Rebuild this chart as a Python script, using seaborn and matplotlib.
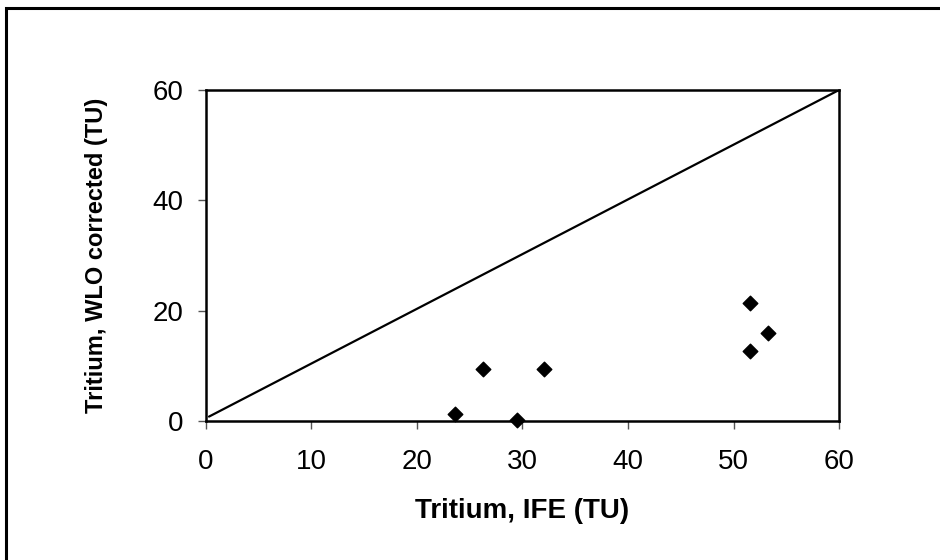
import matplotlib
matplotlib.use("Agg")
import matplotlib.pyplot as plt
import seaborn as sns
import pandas as pd
from matplotlib.patches import Rectangle

ife = [23.6, 26.3, 29.5, 32.0, 51.6, 51.6, 53.3]
wlo = [1.3, 9.5, 0.2, 9.5, 21.3, 12.7, 15.9]
line_x = [0.3, 60]
line_y = [0.8, 60]
ticks = [0, 10, 20, 30, 40, 50, 60]
yticks = [0, 20, 40, 60]

sns.set_theme(style="white")
plt.rcParams['font.family'] = ['Liberation Sans', 'DejaVu Sans']
plt.rcParams['text.color'] = 'black'
plt.rcParams['axes.labelcolor'] = 'black'

fig = plt.figure(figsize=(9.4, 5.6), dpi=100)
ax = fig.add_axes([0.219, 0.2482, 0.6736, 0.5911])

df = pd.DataFrame({"x": ife, "y": wlo})
sns.lineplot(x=line_x, y=line_y, ax=ax, color="black", linewidth=1.6)
sns.scatterplot(data=df, x="x", y="y", ax=ax, marker="D", s=55, color="black",
                edgecolor="black", linewidth=1, zorder=5, clip_on=False)

ax.set_xlim(0, 60)
ax.set_ylim(0, 60)
ax.set_xticks(ticks)
ax.set_yticks(yticks)
ax.tick_params(axis="both", direction="out", length=6, width=1, color="#555555",
               labelsize=20, labelcolor="black", bottom=True, left=True)
ax.tick_params(axis="x", pad=14)
ax.tick_params(axis="y", pad=10)
for s in ax.spines.values():
    s.set_visible(True)
    s.set_color("black")
    s.set_linewidth(1.8)
ax.set_xlabel("Tritium, IFE (TU)", fontsize=20, fontweight="bold", va="center")
ax.set_ylabel("Tritium, WLO corrected (TU)", fontsize=17, fontweight="bold", va="center")
ax.xaxis.set_label_coords(0.5, -0.272)
ax.yaxis.set_label_coords(-0.172, 0.5)

fig.patches.append(Rectangle((5.5 / 940, -0.05), 1.1, 1.05 - 7.5 / 560, transform=fig.transFigure,
                             fill=False, edgecolor="black", linewidth=2.2))

fig.savefig("out.png", dpi=100)
